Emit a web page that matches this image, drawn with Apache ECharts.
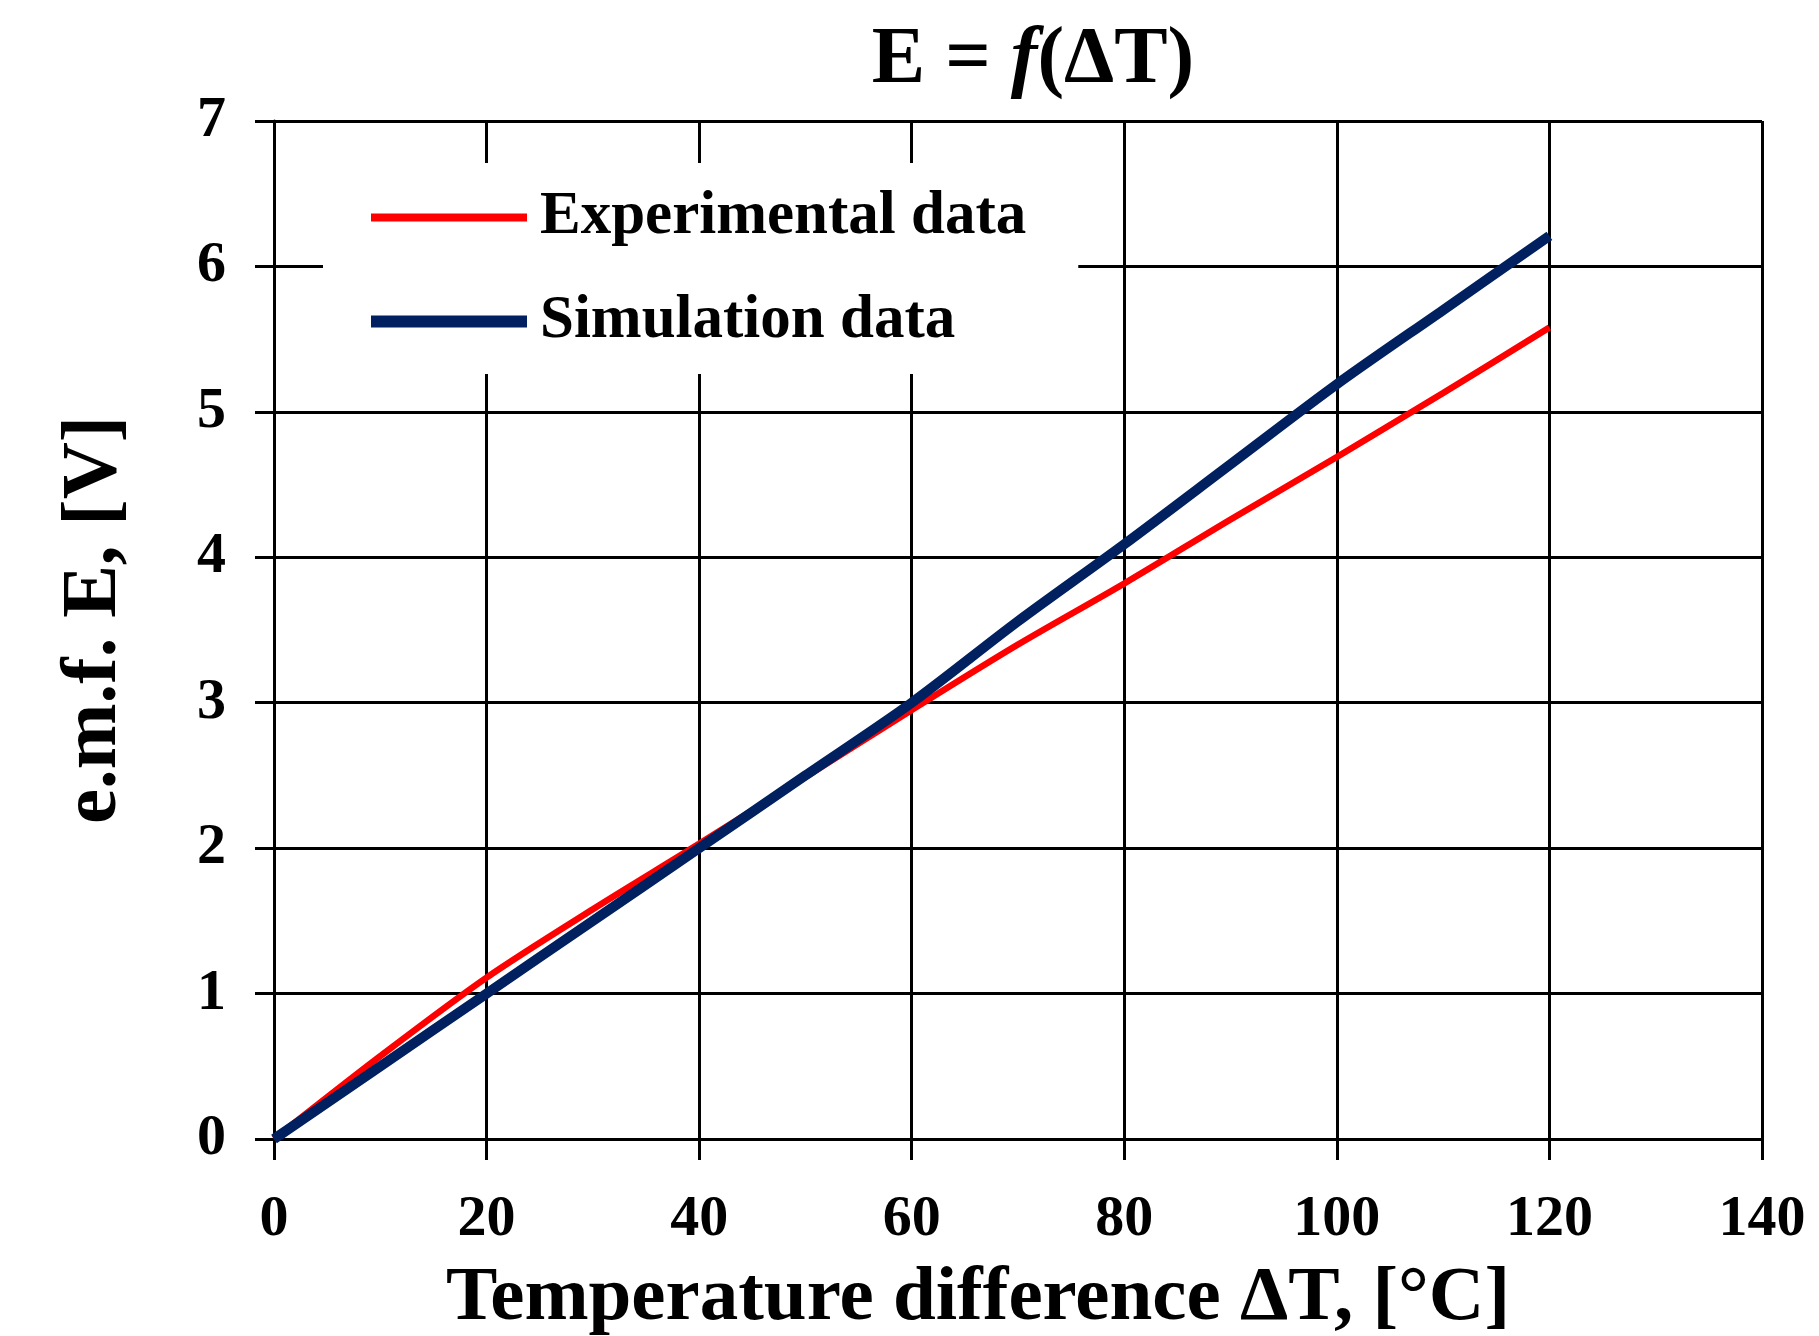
<!DOCTYPE html>
<html>
<head>
<meta charset="utf-8">
<title>E = f(ΔT)</title>
<script src="https://cdn.jsdelivr.net/npm/echarts@6/dist/echarts.min.js"></script>
<style>
  html, body { margin: 0; padding: 0; background: #fff; }
  #chart { width: 1819px; height: 1336px; }
</style>
</head>
<body>
<div id="chart"></div>
<script>
// temperature difference, °C
const deltaT = [0, 10, 20, 30, 40, 50, 60, 70, 80, 90, 100, 110, 120]
// e.m.f., V
const experimental = [0, 0.57, 1.11, 1.58, 2.03, 2.49, 2.95, 3.40, 3.82, 4.26, 4.69, 5.13, 5.58]
const simulation = [0, 0.50, 1.00, 1.50, 2.00, 2.50, 3.00, 3.56, 4.09, 4.64, 5.19, 5.70, 6.21]

const FONT = '"Liberation Serif", "Times New Roman", serif'
const RED = '#ff0000'
const NAVY = '#002060'

const toPairs = ys => deltaT.map((x, i) => [x, ys[i]])

const chart = echarts.init(document.getElementById('chart'))
chart.setOption({
  animation: false,
  backgroundColor: '#fff',
  title: {
    text: '{a|E = }{b|f}{a|(ΔT)}',
    left: 1028,
    textAlign: 'center',
    top: 16,
    textStyle: {
      rich: {
        a: { fontFamily: FONT, fontWeight: 'bold', fontSize: 80, color: '#000' },
        b: { fontFamily: FONT, fontWeight: 'bold', fontStyle: 'italic', fontSize: 80, color: '#000' }
      }
    }
  },
  grid: {
    left: 274,
    right: 57,
    top: 121,
    bottom: 197,
    outerBoundsMode: 'none'
  },
  legend: {
    orient: 'vertical',
    left: 323,
    top: 163,
    backgroundColor: '#fff',
    padding: [24, 52, 22, 42],
    itemWidth: 156,
    itemHeight: 10,
    itemGap: 43,
    textStyle: {
      fontFamily: FONT,
      fontWeight: 'bold',
      fontSize: 61,
      color: '#000',
      padding: [0, 0, 0, 8]
    },
    data: [
      { name: 'Experimental data', itemStyle: { opacity: 0 }, lineStyle: { color: RED, width: 8, cap: 'butt' } },
      { name: 'Simulation data', itemStyle: { opacity: 0 }, lineStyle: { color: NAVY, width: 12, cap: 'butt' } }
    ]
  },
  xAxis: {
    type: 'value',
    min: 0,
    max: 140,
    interval: 20,
    name: 'Temperature difference ΔT, [°C]',
    nameLocation: 'middle',
    nameGap: 122,
    nameTextStyle: {
      fontFamily: FONT,
      fontWeight: 'bold',
      fontSize: 77,
      color: '#000',
      padding: [0, 80, 0, 0]
    },
    axisLine: { show: true, lineStyle: { color: '#000', width: 3 } },
    axisTick: { show: true, length: 21, lineStyle: { color: '#000', width: 3 } },
    axisLabel: {
      margin: 52,
      fontFamily: FONT,
      fontWeight: 'bold',
      fontSize: 58,
      color: '#000'
    },
    splitLine: { show: true, lineStyle: { color: '#000', width: 3 } }
  },
  yAxis: {
    type: 'value',
    min: 0,
    max: 7,
    interval: 1,
    name: 'e.m.f. E, [V]',
    nameLocation: 'middle',
    nameGap: 140,
    nameTextStyle: {
      fontFamily: FONT,
      fontWeight: 'bold',
      fontSize: 79,
      color: '#000',
      padding: [0, 0, 0, 20]
    },
    axisLine: { show: true, lineStyle: { color: '#000', width: 3 } },
    axisTick: { show: true, length: 19, lineStyle: { color: '#000', width: 3 } },
    axisLabel: {
      margin: 48,
      fontFamily: FONT,
      fontWeight: 'bold',
      fontSize: 58,
      color: '#000'
    },
    splitLine: { show: true, lineStyle: { color: '#000', width: 3 } }
  },
  series: [
    {
      name: 'Experimental data',
      type: 'line',
      data: toPairs(experimental),
      smooth: 0.3,
      symbol: 'none',
      z: 3,
      lineStyle: { color: RED, width: 6.5 },
      itemStyle: { color: RED }
    },
    {
      name: 'Simulation data',
      type: 'line',
      data: toPairs(simulation),
      smooth: 0.3,
      symbol: 'none',
      z: 4,
      lineStyle: { color: NAVY, width: 10 },
      itemStyle: { color: NAVY }
    }
  ]
})
</script>
</body>
</html>
